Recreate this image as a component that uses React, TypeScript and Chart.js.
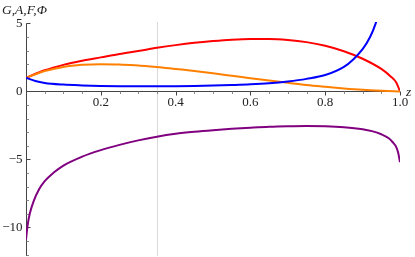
import React, { useEffect, useRef } from "react";
import { Chart, registerables } from "chart.js";

Chart.register(...registerables);

// ---- data ----
const zF = [0, 0.05, 0.1, 0.15, 0.2, 0.25, 0.3, 0.35, 0.4, 0.45, 0.5, 0.55, 0.6, 0.65, 0.7, 0.75, 0.8, 0.85, 0.9, 0.95, 0.975, 0.99, 1.0];
const F = [1.0, 1.55, 1.95, 2.25, 2.5, 2.75, 2.97, 3.2, 3.4, 3.57, 3.7, 3.8, 3.85, 3.85, 3.78, 3.62, 3.35, 2.95, 2.4, 1.65, 1.1, 0.65, 0.0];

const zA = [0, 0.05, 0.1, 0.15, 0.2, 0.25, 0.3, 0.35, 0.4, 0.45, 0.5, 0.55, 0.6, 0.65, 0.7, 0.75, 0.8, 0.85, 0.9, 0.95, 1.0];
const A = [1.0, 1.5, 1.8, 1.95, 2.0, 1.98, 1.9, 1.8, 1.65, 1.5, 1.33, 1.15, 0.97, 0.8, 0.63, 0.47, 0.34, 0.22, 0.12, 0.05, 0.0];

const zG = [0, 0.025, 0.05, 0.1, 0.15, 0.2, 0.25, 0.3, 0.35, 0.4, 0.45, 0.5, 0.55, 0.6, 0.65, 0.7, 0.75, 0.8, 0.85, 0.875, 0.9, 0.92, 0.935, 0.945];
const G = [1.0, 0.76, 0.62, 0.5, 0.44, 0.4, 0.38, 0.37, 0.37, 0.38, 0.4, 0.43, 0.47, 0.52, 0.6, 0.73, 0.92, 1.2, 1.8, 2.35, 3.1, 4.0, 5.0, 6.0];

const zPhi = [0, 0.004, 0.01, 0.02, 0.035, 0.05, 0.075, 0.1, 0.15, 0.2, 0.25, 0.3, 0.35, 0.4, 0.45, 0.5, 0.55, 0.6, 0.65, 0.7, 0.75, 0.8, 0.85, 0.9, 0.925, 0.95, 0.97, 0.98, 0.99, 0.995, 1.0];
const Phi = [-10.9, -9.9, -9.0, -8.1, -7.2, -6.6, -5.95, -5.45, -4.8, -4.32, -3.93, -3.6, -3.33, -3.12, -2.97, -2.85, -2.75, -2.67, -2.6, -2.56, -2.54, -2.56, -2.63, -2.78, -2.92, -3.15, -3.45, -3.72, -4.1, -4.5, -5.2];

const xTicks = [0.2, 0.4, 0.6, 0.8, 1.0];
const xTickLabels = ["0.2", "0.4", "0.6", "0.8", "1.0"];
const yTicks = [5, 0, -5, -10];
const yTickLabels = ["5", "0", "\u22125", "\u221210"];
const gridX = 0.35;
const xAxisLabel = "z";
const yAxisLabel = "G,A,F,\u03A6";

const pts = (xs: number[], ys: number[]) => xs.map((x, i) => ({ x, y: ys[i] }));

const axesPlugin = {
  id: "mmaAxes",
  beforeDatasetsDraw(chart: any) {
    const { ctx, chartArea: a, scales } = chart;
    const xs = scales.x;
    const ys = scales.y;
    const x0 = Math.round(xs.getPixelForValue(0)) + 0.5;
    const y0 = Math.round(ys.getPixelForValue(0)) + 0.5;
    const x1 = xs.getPixelForValue(1);
    ctx.save();
    // vertical grid line
    const gx = Math.round(xs.getPixelForValue(gridX)) + 0.5;
    ctx.strokeStyle = "#dadada";
    ctx.lineWidth = 1;
    ctx.beginPath();
    ctx.moveTo(gx, a.top);
    ctx.lineTo(gx, a.bottom);
    ctx.stroke();

    // axes lines
    ctx.strokeStyle = "#444";
    ctx.beginPath();
    ctx.moveTo(x0, y0);
    ctx.lineTo(x1, y0);
    ctx.moveTo(x0, ys.getPixelForValue(5));
    ctx.lineTo(x0, a.bottom);
    ctx.stroke();

    // x minor ticks
    ctx.strokeStyle = "#888";
    ctx.beginPath();
    for (let i = 1; i <= 20; i++) {
      if (i % 4 === 0) continue;
      const px = Math.round(xs.getPixelForValue(i * 0.05)) + 0.5;
      ctx.moveTo(px, y0);
      ctx.lineTo(px, y0 + 2.5);
    }
    // y minor ticks
    for (let v = -12; v <= 5; v++) {
      if (v % 5 === 0) continue;
      const py = Math.round(ys.getPixelForValue(v)) + 0.5;
      ctx.moveTo(x0, py);
      ctx.lineTo(x0 + 2.5, py);
    }
    ctx.stroke();

    // major ticks
    ctx.strokeStyle = "#444";
    ctx.beginPath();
    xTicks.forEach((v) => {
      const px = Math.round(xs.getPixelForValue(v)) + 0.5;
      ctx.moveTo(px, y0);
      ctx.lineTo(px, y0 + 4);
    });
    yTicks.forEach((v) => {
      if (v === 0) return;
      const py = Math.round(ys.getPixelForValue(v)) + 0.5;
      ctx.moveTo(x0, py);
      ctx.lineTo(x0 + 4, py);
    });
    ctx.stroke();

    // labels
    ctx.fillStyle = "#222";
    ctx.font = "13px 'Liberation Serif', 'DejaVu Serif', serif";
    ctx.textAlign = "center";
    ctx.textBaseline = "top";
    xTicks.forEach((v, i) => {
      ctx.fillText(xTickLabels[i], xs.getPixelForValue(v), y0 + 5);
    });
    ctx.textAlign = "right";
    ctx.textBaseline = "middle";
    yTicks.forEach((v, i) => {
      ctx.fillText(yTickLabels[i], x0 - 4, ys.getPixelForValue(v) + 0.5);
    });

    ctx.font = "italic 13.5px 'Liberation Serif', 'DejaVu Serif', serif";
    ctx.textAlign = "left";
    ctx.textBaseline = "middle";
    ctx.fillText(xAxisLabel, x1 + 6, y0 + 1);
    ctx.textBaseline = "alphabetic";
    ctx.fillText(yAxisLabel, 2, 14);
    ctx.restore();
  },
};

export default function App() {
  const ref = useRef<HTMLCanvasElement | null>(null);
  useEffect(() => {
    if (!ref.current) return;
    const common = {
      borderWidth: 2,
      pointRadius: 0,
      fill: false,
      cubicInterpolationMode: "monotone" as const,
    };
    const chart = new Chart(ref.current, {
      type: "line",
      data: {
        datasets: [
          { ...common, label: "G", data: pts(zG, G), borderColor: "#0000ff" },
          { ...common, label: "A", data: pts(zA, A), borderColor: "#ff8000" },
          { ...common, label: "F", data: pts(zF, F), borderColor: "#ff0000" },
          { ...common, label: "Phi", data: pts(zPhi, Phi), borderColor: "#800080" },
        ],
      },
      options: {
        animation: false,
        responsive: false,
        devicePixelRatio: 1,
        parsing: false as any,
        layout: { padding: { left: 26, right: 15, top: 22, bottom: 1 } },
        plugins: { legend: { display: false }, tooltip: { enabled: false } },
        scales: {
          x: { type: "linear", min: 0, max: 1, display: false },
          y: { type: "linear", min: -12.1, max: 5.1, display: false },
        },
      },
      plugins: [axesPlugin],
    });
    return () => chart.destroy();
  }, []);
  return (
    <div style={{ position: "fixed", left: 0, top: 0, width: 415, height: 257, background: "#fff" }}>
      <canvas ref={ref} width={415} height={257} />
    </div>
  );
}
